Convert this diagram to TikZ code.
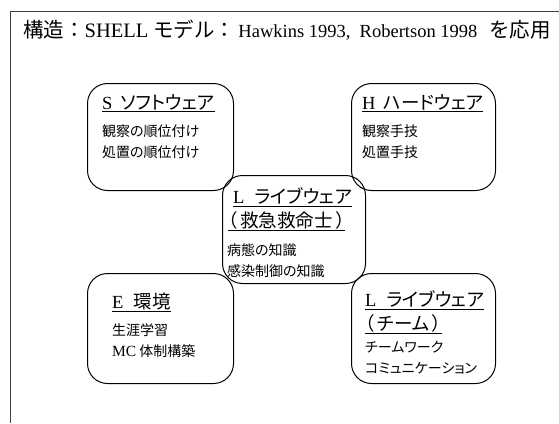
\documentclass[tikz,border=0pt]{standalone}
\usepackage{fontspec}
\setmainfont{Liberation Serif}
\newfontfamily\jpf[RawFeature=+palt]{Noto Sans CJK JP}
\newfontfamily\jpw{Noto Sans CJK JP}
\newcommand\jp[1]{{\jpf #1}}
\newcommand\jw[1]{{\jpw #1}}
\begin{document}
\begin{tikzpicture}[x=1pt,y=-1pt,
  box/.style={draw, line width=1pt, rounded corners=20pt, inner sep=0pt, anchor=north west},
  item/.style={anchor=west, inner sep=0pt, font=\jpf\fontsize{14}{16}\selectfont},
  head/.style={anchor=west, inner sep=0pt, font=\fontsize{18.5}{20}\selectfont},
  frameline/.style={draw=black!75, line width=1pt}]
\useasboundingbox (0,0) rectangle (559,423);
\coordinate (f1) at (559,11);
\coordinate (f2) at (10,11);
\coordinate (f3) at (10,423);
\draw[frameline] (f1) -- (f2) -- (f3);

\node[anchor=west, inner sep=0pt] (title) at (23,30)
  {\fontsize{20.5}{22}\selectfont\jw{構造：}SHELL\hspace{5pt}\jw{モデル：}\hspace{3pt}{\fontsize{18.5}{20}\selectfont Hawkins 1993,\ \ Robertson 1998}\hspace{12pt}\jw{を応用}};

% boxes
\node[box, minimum width=146pt, minimum height=107pt] (S) at (87,83) {};
\node[box, minimum width=144pt, minimum height=107pt] (H) at (351,83) {};
\node[box, minimum width=143pt, minimum height=108pt] (C) at (222,175) {};
\node[box, minimum width=146pt, minimum height=110pt] (E) at (87,273) {};
\node[box, minimum width=144pt, minimum height=110pt] (T) at (351,273) {};

% S box
\node[head] (sh) at (102,103) {\underline{S\hspace{8pt}\jp{ソフトウェア}}};
\node[item] (s1) at (102,131) {観察の順位付け};
\node[item] (s2) at (102,152) {処置の順位付け};

% H box
\node[head] (hh) at (362,103) {\underline{H\hspace{8pt}\jp{ハードウェア}}};
\node[item] (h1) at (362,131) {観察手技};
\node[item] (h2) at (362,152) {処置手技};

% center
\node[head] (ch) at (233,197) {\underline{L\hspace{10pt}\jp{ライブウェア}}};
\node[head] (ch2) at (228,221) {\underline{\jp{（\hspace{3pt}救急救命士\hspace{3pt}）}}};
\node[item] (c1) at (227,250) {病態の知識};
\node[item] (c2) at (227,271) {感染制御の知識};

% E box
\node[head] (eh) at (112,302) {\underline{E\hspace{10pt}\jp{環境}}};
\node[item] (e1) at (112,330) {生涯学習};
\node[item] (e2) at (112,351) {{\rmfamily\fontsize{15.5}{17}\selectfont MC}\hspace{3pt}体制構築};

% T box
\node[head] (th) at (365,300) {\underline{L\hspace{10pt}\jp{ライブウェア}}};
\node[head] (th2) at (365,324) {\underline{\jp{（\hspace{3pt}チーム\hspace{3pt}）}}};
\node[item] (t1) at (365,347) {チームワーク};
\node[item] (t2) at (365,368) {コミュニケーション};
\end{tikzpicture}
\end{document}
